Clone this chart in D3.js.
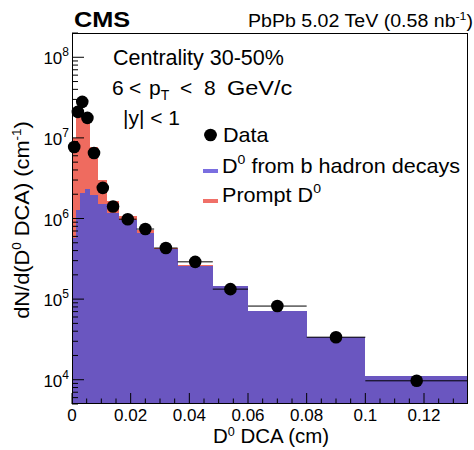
<!DOCTYPE html>
<html><head><meta charset="utf-8">
<script src="https://cdn.jsdelivr.net/npm/d3@7"></script>
<style>
body{margin:0;background:#fff}
svg{font-family:"Liberation Sans",Arial,Helvetica,sans-serif}
</style>
</head><body>
<svg id="chart" width="474" height="450"></svg>
<script>
// Data binning of the D0 DCA distribution (cm)
const binEdges = [0, 0.0015, 0.0025, 0.0045, 0.006, 0.009, 0.012, 0.016, 0.022, 0.028, 0.036, 0.048, 0.06, 0.08, 0.1, 0.135];
// Measured yield per bin, dN/dDCA (cm^-1)
const dataValues = [7.7e6, 2.1e7, 2.8e7, 1.77e7, 6.5e6, 2.4e6, 1.41e6, 0.98e6, 7.4e5, 4.3e5, 2.9e5, 1.33e5, 8.2e4, 3.37e4, 9.7e3];
// Template binning (cm)
const templateEdges = [0, 0.0012, 0.0027, 0.0045, 0.006, 0.009, 0.012, 0.016, 0.022, 0.028, 0.036, 0.048, 0.06, 0.08, 0.1, 0.135];
// Fitted template: D0 from b hadron decays
const nonpromptValues = [5.8e5, 1.28e6, 2.1e6, 2.3e6, 1.95e6, 1.5e6, 1.18e6, 9.6e5, 6.7e5, 4.17e5, 2.61e5, 1.46e5, 7.2e4, 3.37e4, 1.1e4];
// Fitted template: prompt D0 (stacked on top of the b-feed-down part)
const promptValues = [9.4e6, 1.87e7, 1.79e7, 1.77e7, 5.85e6, 1.5e6, 4.7e5, 1.0e5, 5e4, 1.3e4, 2e3, 0, 0, 0, 0];
// Axis ticks
const xTickValues = [0, 0.02, 0.04, 0.06, 0.08, 0.1, 0.12];
const xTickLabels = ["0", "0.02", "0.04", "0.06", "0.08", "0.1", "0.12"];
const yTickExponents = [4, 5, 6, 7, 8];

const colors = { nonprompt: "#6a56c0", prompt: "#ef6b5f", legendNonprompt: "#7a6ee0", legendPrompt: "#f07068" };

const svg = d3.select("#chart");
const plot = { left: 72, top: 33, right: 468, bottom: 404 };

const x = d3.scaleLinear().domain([0, 0.135]).range([plot.left, plot.right]);
const y = d3.scaleLog().domain([5e3, 2e8]).range([plot.bottom, plot.top]).clamp(true);

const bins = binEdges.slice(0, -1).map((lo, i) => ({ lo, hi: binEdges[i + 1], data: dataValues[i] }));
const tpl = templateEdges.slice(0, -1).map((lo, i) => ({
  lo, hi: templateEdges[i + 1],
  np: nonpromptValues[i],
  total: nonpromptValues[i] + promptValues[i]
}));

// Text helper: pieces = [[string, {size, dy}]...], horizontally scaled by sx
function label(parent, px, py, pieces, opt = {}) {
  const gg = parent.append("g")
    .attr("transform", `translate(${px},${py}) scale(${opt.sx || 1},1)`);
  const t = gg.append("text")
    .attr("font-size", opt.size)
    .attr("text-anchor", opt.anchor || "start");
  if (opt.weight) t.attr("font-weight", opt.weight);
  pieces.forEach(p => {
    const s = t.append("tspan").text(p[0]);
    if (p[1]) {
      if (p[1].size) s.attr("font-size", p[1].size);
      if (p[1].dy) s.attr("dy", p[1].dy);
    }
  });
  return gg;
}

const g = svg.append("g");
svg.append("defs").append("clipPath").attr("id", "plotclip")
  .append("rect").attr("x", plot.left).attr("y", plot.top)
  .attr("width", plot.right - plot.left).attr("height", plot.bottom - plot.top);

const hist = g.append("g").attr("clip-path", "url(#plotclip)");

// Stacked histogram: prompt on top of nonprompt
hist.selectAll("rect.prompt").data(tpl.filter(d => d.total > d.np)).join("rect")
  .attr("class", "prompt")
  .attr("x", d => x(d.lo)).attr("width", d => x(d.hi) - x(d.lo))
  .attr("y", d => y(d.total)).attr("height", d => y(d.np) - y(d.total))
  .attr("fill", colors.prompt).attr("shape-rendering", "crispEdges");
hist.selectAll("rect.np").data(tpl).join("rect")
  .attr("class", "np")
  .attr("x", d => x(d.lo)).attr("width", d => x(d.hi) - x(d.lo))
  .attr("y", d => y(d.np)).attr("height", d => plot.bottom - y(d.np))
  .attr("fill", colors.nonprompt).attr("shape-rendering", "crispEdges");

// Data: horizontal bin-width bars and markers
hist.selectAll("line.err").data(bins).join("line")
  .attr("x1", d => x(d.lo)).attr("x2", d => x(d.hi))
  .attr("y1", d => y(d.data)).attr("y2", d => y(d.data))
  .attr("stroke", "#000").attr("stroke-width", 1);
g.selectAll("circle.pt").data(bins).join("circle")
  .attr("cx", d => x((d.lo + d.hi) / 2)).attr("cy", d => y(d.data))
  .attr("r", 6.3).attr("fill", "#000");

// x ticks: major every 0.02, minor every 0.005
const ax = g.append("g");
const xMinor = d3.range(0, 27).map(i => i * 0.005);
ax.selectAll("line.xt").data(xMinor).join("line")
  .attr("x1", d => x(d)).attr("x2", d => x(d))
  .attr("y1", plot.bottom)
  .attr("y2", (d, i) => plot.bottom - (i % 4 === 0 ? 11 : 5.5))
  .attr("stroke", "#000").attr("stroke-width", 1);
xTickValues.forEach((v, i) => {
  label(ax, x(v), 421, [[xTickLabels[i]]], { size: 17, anchor: "middle" });
});

// y ticks (log): major at decades, minor at 2..9
const yTicks = [];
for (let e = 3; e <= 8; e++) for (let m = 1; m <= 9; m++) {
  const v = m * Math.pow(10, e);
  if (v >= 5e3 && v <= 2e8) yTicks.push({ v, major: m === 1 });
}
ax.selectAll("line.yt").data(yTicks).join("line")
  .attr("x1", plot.left).attr("x2", d => plot.left + (d.major ? 12 : 6))
  .attr("y1", d => y(d.v)).attr("y2", d => y(d.v))
  .attr("stroke", "#000").attr("stroke-width", 1);
yTickExponents.forEach(e => {
  label(ax, 69, y(Math.pow(10, e)) + 7, [["10"], [String(e), { size: 12, dy: -8 }]], { size: 17, anchor: "end" });
});

// frame
g.append("rect").attr("x", plot.left + 0.5).attr("y", plot.top + 0.5)
  .attr("width", plot.right - plot.left - 1).attr("height", plot.bottom - plot.top - 1)
  .attr("fill", "none").attr("stroke", "#000").attr("stroke-width", 1);

// Axis titles
label(svg, 271, 443, [["D"], ["0", { size: 12, dy: -7 }], [" DCA (cm)", { dy: 7 }]], { size: 19.5, anchor: "middle", sx: 1.05 });
const ytg = svg.append("g").attr("transform", "translate(29,220) rotate(-90)");
label(ytg, 0, 0, [["dN/d(D"], ["0", { size: 12, dy: -8 }], [" DCA) (cm", { dy: 8 }], ["-1", { size: 12, dy: -8 }], [")", { dy: 8 }]], { size: 19.5, anchor: "middle", sx: 1.12 });

// Header
label(svg, 74, 27, [["CMS"]], { size: 22, weight: "bold", sx: 1.15 });
label(svg, 473, 27, [["PbPb 5.02 TeV (0.58 nb"], ["-1", { size: 11, dy: -7 }], [")", { dy: 7 }]], { size: 17.5, anchor: "end", sx: 1.12 });

// Selection labels
label(svg, 113, 65, [["Centrality 30-50%"]], { size: 21.5 });
const ptRow = svg.append("g");
label(ptRow, 112, 95, [["6"]], { size: 21 });
label(ptRow, 129, 95, [["<"]], { size: 21 });
label(ptRow, 149, 95, [["p"], ["T", { size: 14, dy: 5 }]], { size: 21 });
label(ptRow, 180, 95, [["<"]], { size: 21 });
label(ptRow, 204, 95, [["8"]], { size: 21 });
label(ptRow, 227, 95, [["GeV/c"]], { size: 21, sx: 1.12 });
label(svg, 123, 125, [["|y| < 1"]], { size: 21 });

// Legend
const lg = svg.append("g");
lg.append("line").attr("x1", 204).attr("x2", 217).attr("y1", 135).attr("y2", 135).attr("stroke", "#000");
lg.append("circle").attr("cx", 210.5).attr("cy", 135).attr("r", 6.3).attr("fill", "#000");
label(lg, 223, 142, [["Data"]], { size: 20, sx: 1.08 });
lg.append("rect").attr("x", 203).attr("y", 169).attr("width", 15).attr("height", 4).attr("fill", colors.legendNonprompt);
label(lg, 222, 173, [["D"], ["0", { size: 13, dy: -9 }], [" from b hadron decays", { dy: 9 }]], { size: 20, sx: 1.08 });
lg.append("rect").attr("x", 203).attr("y", 199).attr("width", 15).attr("height", 4).attr("fill", colors.legendPrompt);
label(lg, 222, 202, [["Prompt D"], ["0", { size: 13, dy: -9 }]], { size: 20, sx: 1.08 });
</script>
</body></html>
